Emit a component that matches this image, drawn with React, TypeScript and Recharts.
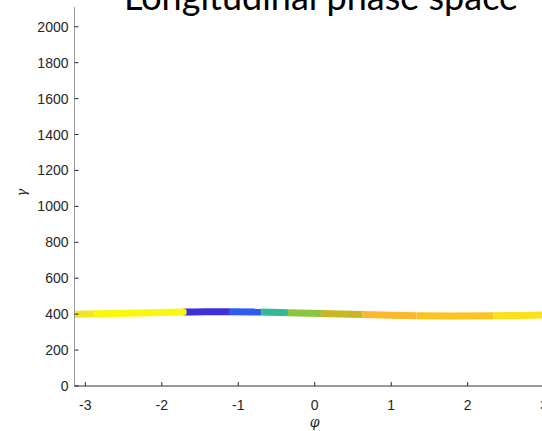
import { LineChart, Line, XAxis, YAxis } from 'recharts'

// Phase-space samples (phi in rad, gamma dimensionless)
const phiValues = [-3.1416, -2.85, -2.3, -1.72, -1.4, -1.11, -0.7, -0.35, 0.08, 0.62, 1.0, 1.33, 1.8, 2.33, 2.7, 3.1416]
const gammaValues = [400, 402, 407, 412, 414, 414, 412, 408, 404, 398, 394, 391, 390, 391, 393, 397]

// Colour bands along the bunch (index ranges into the arrays above)
const segFrom = [3, 5, 6, 7, 8, 9, 11, 13, 0, 1]
const segTo = [5, 6, 7, 8, 9, 11, 13, 15, 1, 3]
const segColors = ['#3c2fdc', '#2f5cf0', '#33b89a', '#8bc43e', '#c6b825', '#fbb82a', '#fcc21e', '#fbe01a', '#f3e424', '#f8f80c']

const xTicks = [-3, -2, -1, 0, 1, 2, 3]
const yTicks = [0, 200, 400, 600, 800, 1000, 1200, 1400, 1600, 1800, 2000]

const rows = phiValues.map((phi, i) => ({ phi, gamma: gammaValues[i] }))

const TEXT = '#262626'

function YTick({ x, y, payload }: { x: number; y: number; payload: { value: number } }) {
  return (
    <g>
      <line x1={x + 8} x2={x + 12} y1={y} y2={y} stroke={TEXT} strokeWidth={1} />
      <text x={x + 2} y={y} dy={5} textAnchor="end" fontSize={14} fill={TEXT} fontFamily="Liberation Sans, Arial, sans-serif">
        {payload.value}
      </text>
    </g>
  )
}

function XTick({ x, y, payload }: { x: number; y: number; payload: { value: number } }) {
  return (
    <g>
      <line x1={x} x2={x} y1={y - 8} y2={y - 12} stroke={TEXT} strokeWidth={1} />
      <text x={x} y={y} dy={16} textAnchor="middle" fontSize={14} fill={TEXT} fontFamily="Liberation Sans, Arial, sans-serif">
        {payload.value}
      </text>
    </g>
  )
}

export default function App() {
  return (
    <div style={{ position: 'absolute', left: 0, top: 0, width: 542, height: 431, overflow: 'hidden', background: '#fff' }}>
      <LineChart width={560} height={431} data={rows} margin={{ top: 7, right: 5, left: 0, bottom: 0 }}>
        <XAxis
          dataKey="phi"
          type="number"
          domain={[-Math.PI, Math.PI]}
          ticks={xTicks}
          allowDataOverflow
          height={45}
          stroke="#333"
          tickLine={false}
          tick={XTick}
          label={{ value: 'φ', position: 'insideBottom', offset: 0, dy: -4, fontSize: 14, fontStyle: 'italic', fontFamily: 'DejaVu Serif, serif', fill: TEXT }}
        />
        <YAxis
          type="number"
          domain={[0, 2110]}
          ticks={yTicks}
          allowDataOverflow
          width={74.5}
          stroke="#999"
          tickLine={false}
          tick={YTick}
          label={{ value: 'γ', angle: -90, position: 'insideLeft', dx: 16, fontSize: 13, fontStyle: 'italic', fontFamily: 'DejaVu Serif, serif', fill: TEXT }}
        />
        {segColors.map((color, k) => (
          <Line
            key={k}
            data={rows.slice(segFrom[k], segTo[k] + 1)}
            dataKey="gamma"
            type="monotone"
            stroke={color}
            strokeWidth={7}
            strokeLinecap={k >= 8 ? 'round' : 'butt'}
            dot={false}
            activeDot={false}
            isAnimationActive={false}
          />
        ))}
      </LineChart>
      <svg width={542} height={40} style={{ position: 'absolute', left: 0, top: 0 }}>
        <text x={321} y={10} textAnchor="middle" fontSize={36} fill="#000" fontFamily="Lato, sans-serif">
          Longitudinal phase space
        </text>
      </svg>
    </div>
  )
}
